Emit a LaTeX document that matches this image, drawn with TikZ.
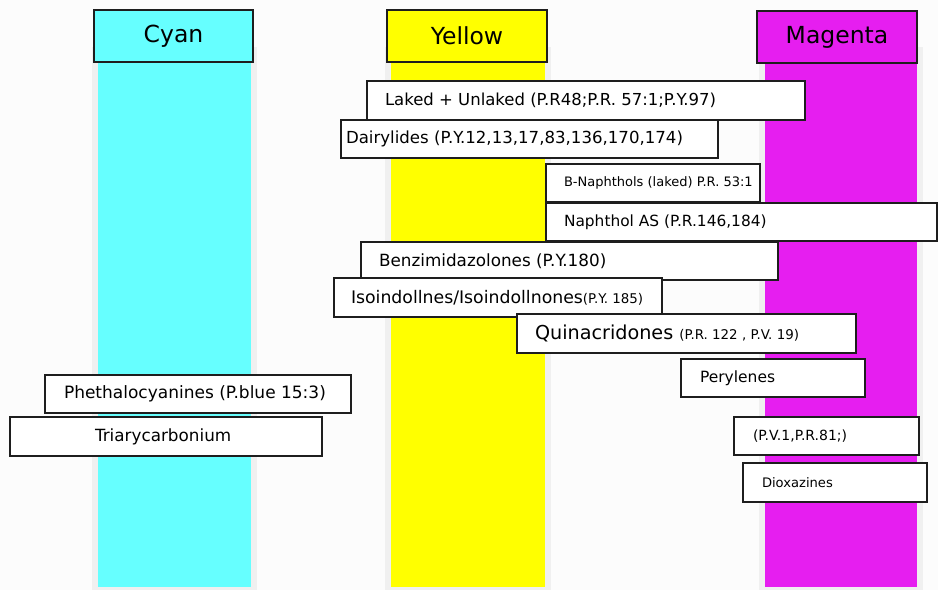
\documentclass[tikz,border=0pt]{standalone}
\usepackage{fontspec}
\setmainfont{DejaVu Sans}
\definecolor{cyanbar}{RGB}{102,255,255}
\definecolor{yellowbar}{RGB}{255,255,0}
\definecolor{magentabar}{RGB}{230,30,240}
\definecolor{stripgrey}{RGB}{240,240,240}
\definecolor{boxline}{RGB}{30,30,30}
\newcommand\fs[1]{\fontsize{#1}{#1}\selectfont}
\newcommand\tagbox[7]{\node[tagb, minimum width=#4, minimum height=#5, inner xsep=#6] (#1) at (#2,#3) {\makebox[\dimexpr #4-#6*2\relax][l]{#7}};}
\begin{document}
\begin{tikzpicture}[x=1pt,y=-1pt,
  tagb/.style={draw=boxline, fill=white, line width=1.2pt, anchor=north west, inner ysep=0pt, outer sep=0pt},
  head/.style={draw=boxline, line width=1.2pt, anchor=north west, minimum width=160pt, minimum height=52pt, inner sep=0pt, outer sep=0pt, font=\fs{23.5}},
  strip/.style={fill=stripgrey, draw=none}]
\useasboundingbox (0,0) rectangle (938,590);
\fill[white!99!black] (0,0) rectangle (938,590);
% grey strips behind the bars
\fill[strip] (92,47) rectangle (257,590);
\fill[strip] (385,47) rectangle (551,590);
\fill[strip] (759,47) rectangle (923,590);
% colour bars
\fill[cyanbar] (98,62) rectangle (251,587);
\fill[yellowbar] (391,62) rectangle (545,587);
\fill[magentabar] (765,62) rectangle (917,587);
% headers
\node[head, fill=cyanbar, minimum width=159pt] (cyan) at (94,10) {\raisebox{-1.5pt}{Cyan}};
\node[head, fill=yellowbar] (yellow) at (387,10) {Yellow};
\node[head, fill=magentabar] (magenta) at (757,11) {Magenta};
% labels
\tagbox{lak}{367}{81}{438pt}{39pt}{18pt}{\fs{16.5}Laked + Unlaked (P.R48;P.R. 57:1;P.Y.97)}
\tagbox{dai}{341}{120}{377pt}{38pt}{5pt}{\fs{16.6}Dairylides (P.Y.12,13,17,83,136,170,174)}
\tagbox{bna}{546}{164}{214pt}{38pt}{18pt}{\fs{13.0}B-Naphthols (laked) P.R. 53:1}
\tagbox{nas}{546}{203}{391pt}{38pt}{18pt}{\fs{15.4}Naphthol AS (P.R.146,184)}
\tagbox{ben}{361}{242}{417pt}{38pt}{18pt}{\fs{16.8}Benzimidazolones (P.Y.180)}
\tagbox{iso}{334}{278}{328pt}{39pt}{17pt}{\fs{17.3}Isoindollnes/Isoindollnones{\fs{13.4}(P.Y. 185)}}
\tagbox{qui}{517}{314}{339pt}{39pt}{18pt}{\fs{19.2}Quinacridones {\fs{13.4}(P.R. 122 , P.V. 19)}}
\tagbox{per}{681}{359}{184pt}{38pt}{19pt}{\fs{15.5}Perylenes}
\tagbox{pvr}{734}{417}{185pt}{38pt}{19pt}{\fs{14}(P.V.1,P.R.81;)}
\tagbox{dio}{743}{463}{184pt}{39pt}{19pt}{\fs{13.1}Dioxazines}
\tagbox{pht}{45}{375}{306pt}{38pt}{19pt}{\fs{17}Phethalocyanines (P.blue 15:3)}
\tagbox{tri}{10}{417}{312pt}{39pt}{85pt}{\fs{16.8}Triarycarbonium}
\end{tikzpicture}
\end{document}
